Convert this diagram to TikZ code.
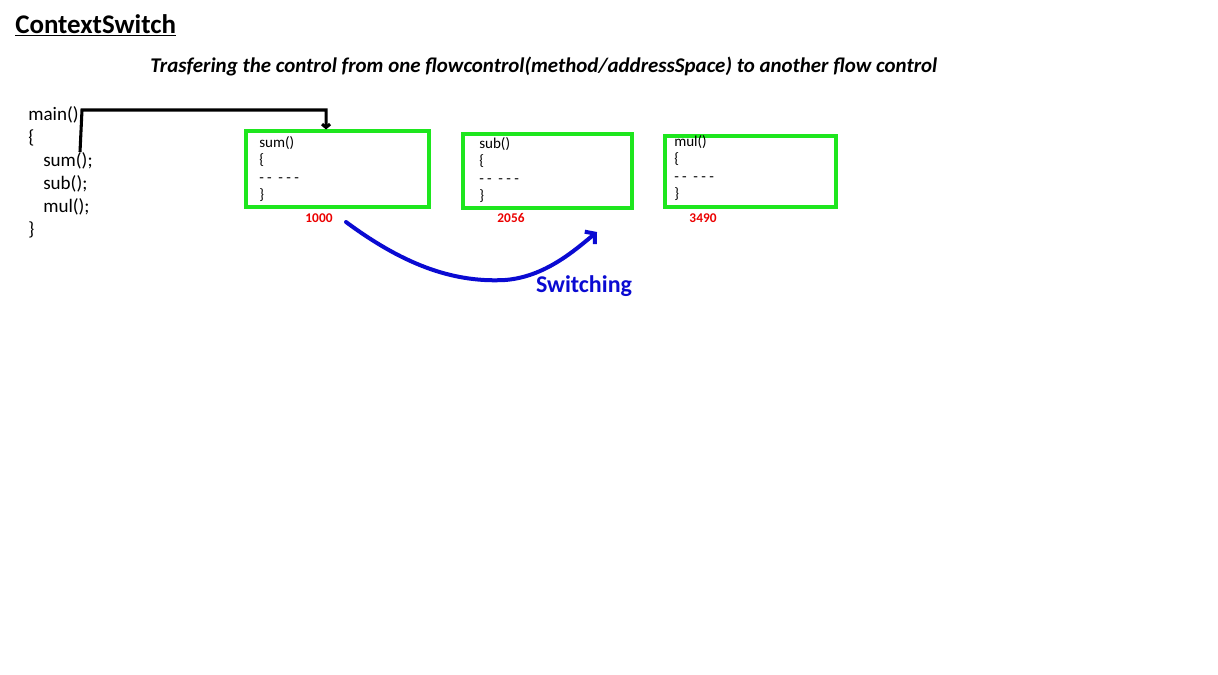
\documentclass[tikz,border=0pt]{standalone}
\usepackage{fontspec}
\setmainfont{Carlito}
\usepackage{xcolor}
\usetikzlibrary{arrows.meta, positioning}

\definecolor{boxgreen}{RGB}{30,230,30}
\definecolor{switchblue}{RGB}{10,10,210}
\definecolor{addrred}{RGB}{235,0,0}

\newcommand{\bodydash}{-\kern2.5pt-\kern5pt-\kern2.5pt-\kern2.5pt-}

\begin{document}
\begin{tikzpicture}[x=0.75pt, y=-0.75pt,
    codetxt/.style={anchor=base west, inner sep=0pt, font=\fontsize{14.3}{16}\selectfont},
    boxtxt/.style={anchor=base west, inner sep=0pt, font=\fontsize{11.3}{13}\selectfont},
    addr/.style={inner sep=0pt, text=addrred, font=\fontsize{10}{12}\selectfont\bfseries},
    fnbox/.style={draw=boxgreen, line width=2.3pt, inner sep=0pt}]
    \useasboundingbox (0,0) rectangle (1218,675);

    % Titel
    \node[anchor=base west, inner sep=0pt, font=\fontsize{20.2}{24}\selectfont\bfseries] (title) at (15,33) {\underline{ContextSwitch}};
    \node[anchor=base west, inner sep=0pt, font=\fontsize{15.7}{18}\selectfont\bfseries\itshape] (subtitle) at (150,72)
        {Trasfering the control from one flowcontrol(method/addressSpace) to another flow control};

    % main() Programm
    \node[codetxt] (mainhead) at (28,120) {main()};
    \node[codetxt] (mainopen) at (28,143) {\{};
    \node[codetxt] (callsum) at (43,166) {sum();};
    \node[codetxt] (callsub) at (43,189) {sub();};
    \node[codetxt] (callmul) at (43,212) {mul();};
    \node[codetxt] (mainclose) at (28,235) {\}};

    % Methoden / Adressraeume
    \node[fnbox, minimum width=137.25pt, minimum height=57pt] (sumbox) at (337.5,169) {};
    \node[boxtxt] (sumhead) at (259,147) {sum()};
    \node[boxtxt] (sumopen) at (259,164.5) {\{};
    \node[boxtxt] (sumbody) at (259,182) {\bodydash};
    \node[boxtxt] (sumclose) at (259,199.5) {\}};

    \node[fnbox, minimum width=126.75pt, minimum height=55.5pt] (subbox) at (547.5,171) {};
    \node[boxtxt] (subhead) at (479,148) {sub()};
    \node[boxtxt] (subopen) at (479,165.5) {\{};
    \node[boxtxt] (subbody) at (479,183) {\bodydash};
    \node[boxtxt] (subclose) at (479,200.5) {\}};

    \node[fnbox, minimum width=128.25pt, minimum height=53.25pt] (mulbox) at (750.5,171.5) {};
    \node[boxtxt] (mulhead) at (674,146) {mul()};
    \node[boxtxt] (mulopen) at (674,163.5) {\{};
    \node[boxtxt] (mulbody) at (674,181) {\bodydash};
    \node[boxtxt] (mulclose) at (674,198.5) {\}};

    % Adressen
    \node[addr] (adr1000) at (319,218) {1000};
    \node[addr] (adr2056) at (511,218) {2056};
    \node[addr] (adr3490) at (703,218) {3490};

    % Aufruf von sum()
    \coordinate (callpt) at (80,152);
    \draw[line width=2.3pt, -{Straight Barb[length=2.5pt, width=6pt]}]
        (callpt) -- (82,110) -| ([xshift=-8.6pt]sumbox.north);

    % Umschalten
    \coordinate (swstart) at (346,222);
    \coordinate (swend) at (597,232);
    \draw[switchblue, line width=3pt, line cap=round, -{Straight Barb[length=5pt, width=12pt]}]
        (swstart) .. controls (400,262) and (450,283) .. (505,280)
        .. controls (545,277) and (575,250) .. (swend);
    \node[text=switchblue, font=\fontsize{18}{21}\selectfont\bfseries] (switchlbl) at (584,286) {Switching};
\end{tikzpicture}
\end{document}
